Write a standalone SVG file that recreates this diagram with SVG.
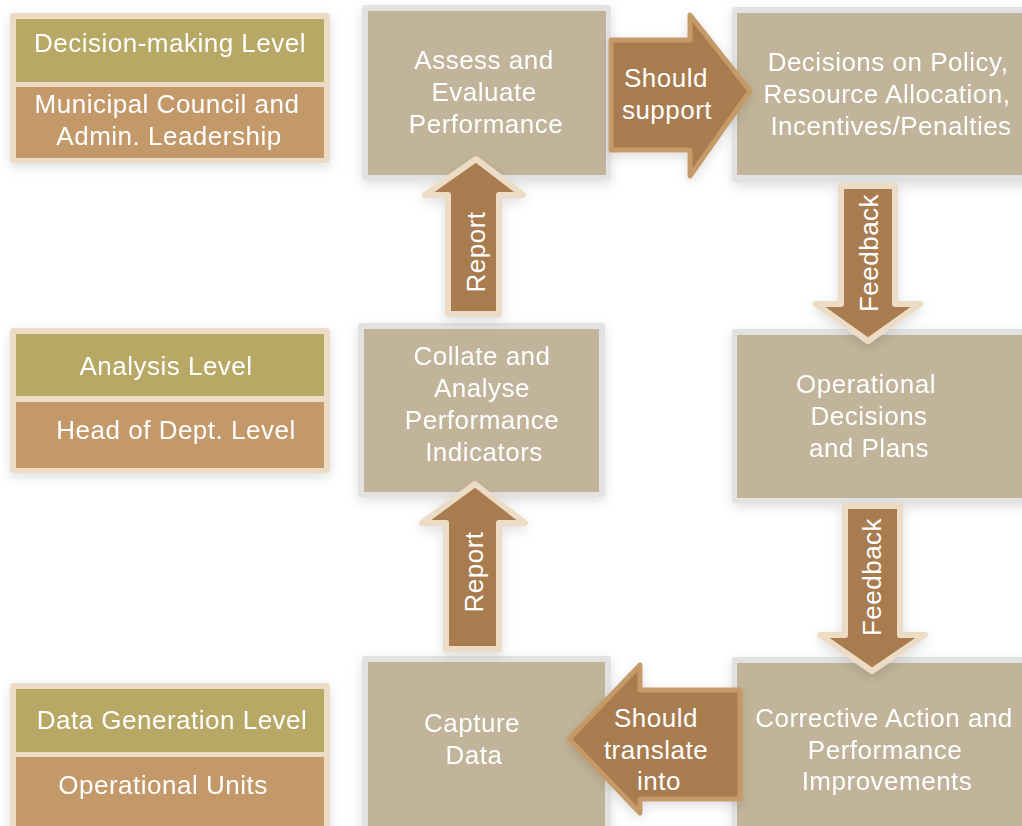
<svg xmlns="http://www.w3.org/2000/svg" width="1022" height="826" viewBox="0 0 1022 826">
<defs>
<filter id="sh" x="-20%" y="-20%" width="140%" height="140%">
<feDropShadow dx="0" dy="4" stdDeviation="6" flood-color="#000" flood-opacity="0.13"/>
</filter>
<style>
.t{font-family:"Liberation Sans",Arial,sans-serif;font-size:26px;fill:#fff;text-anchor:middle;letter-spacing:0.5px}
.frame{fill:#ecdcc6}
.olive{fill:#b8a865}
.brown{fill:#c4996b}
.bframe{fill:#e2e2e1}
.box{fill:#c2b49a}
.arr{fill:#a87b50;stroke:#ecdcc6;stroke-width:6;stroke-linejoin:round}
.arrh{fill:#a87b50;stroke:#c69a68;stroke-width:5;stroke-linejoin:round}
</style>
</defs>
<rect width="1022" height="826" fill="#fff"/>

<g id="legend-decision" filter="url(#sh)">
<rect class="frame" x="10" y="13" width="320" height="150" rx="4"/>
<rect class="olive" x="16" y="19" width="308" height="63"/>
<rect class="brown" x="16" y="87" width="308" height="71"/>
<text class="t" x="170" y="52">Decision-making Level</text>
<text class="t" x="167" y="113">Municipal Council and</text>
<text class="t" x="169" y="145">Admin. Leadership</text>
</g>

<g id="legend-analysis" filter="url(#sh)">
<rect class="frame" x="10" y="328" width="320" height="145" rx="4"/>
<rect class="olive" x="16" y="334" width="308" height="62"/>
<rect class="brown" x="16" y="402" width="308" height="66"/>
<text class="t" x="166" y="375">Analysis Level</text>
<text class="t" x="176" y="439">Head of Dept. Level</text>
</g>

<g id="legend-data" filter="url(#sh)">
<rect class="frame" x="10" y="683" width="320" height="150" rx="4"/>
<rect class="olive" x="16" y="689" width="308" height="63"/>
<rect class="brown" x="16" y="757" width="308" height="80"/>
<text class="t" x="172" y="729">Data Generation Level</text>
<text class="t" x="163" y="794">Operational Units</text>
</g>

<g id="assess" filter="url(#sh)">
<rect class="bframe" x="362" y="5" width="249" height="175" rx="3"/>
<rect class="box" x="368" y="11" width="238" height="164"/>
<text class="t" x="484" y="69">Assess and</text>
<text class="t" x="484" y="101">Evaluate</text>
<text class="t" x="486" y="133">Performance</text>
</g>

<g id="decisions" filter="url(#sh)">
<rect class="bframe" x="732" y="7" width="300" height="175" rx="3"/>
<rect class="box" x="737" y="13" width="290" height="162"/>
<text class="t" x="888" y="71">Decisions on Policy,</text>
<text class="t" x="887" y="103">Resource Allocation,</text>
<text class="t" x="891" y="135">Incentives/Penalties</text>
</g>

<g id="collate" filter="url(#sh)">
<rect class="bframe" x="358" y="323" width="247" height="174" rx="3"/>
<rect class="box" x="364" y="329" width="235" height="163"/>
<text class="t" x="482" y="365">Collate and</text>
<text class="t" x="482" y="397">Analyse</text>
<text class="t" x="482" y="429">Performance</text>
<text class="t" x="484" y="461">Indicators</text>
</g>

<g id="operational" filter="url(#sh)">
<rect class="bframe" x="732" y="329" width="300" height="174" rx="3"/>
<rect class="box" x="737" y="335" width="290" height="163"/>
<text class="t" x="866" y="393">Operational</text>
<text class="t" x="869" y="425">Decisions</text>
<text class="t" x="869" y="457">and Plans</text>
</g>

<g id="capture" filter="url(#sh)">
<rect class="bframe" x="362" y="656" width="249" height="180" rx="3"/>
<rect class="box" x="368" y="662" width="237" height="170"/>
<text class="t" x="472" y="732">Capture</text>
<text class="t" x="474" y="764">Data</text>
</g>

<g id="corrective" filter="url(#sh)">
<rect class="bframe" x="732" y="657" width="300" height="180" rx="3"/>
<rect class="box" x="737" y="663" width="290" height="170"/>
<text class="t" x="884" y="727">Corrective Action and</text>
<text class="t" x="885" y="759">Performance</text>
<text class="t" x="887" y="790">Improvements</text>
</g>

<g id="connectors">
<g filter="url(#sh)">
<polygon class="arrh" points="611,40 690,40 690,15 750,91 690,176 690,150 611,150"/>
<polygon class="arrh" points="740,690 640,690 640,665 569,739 640,813 640,799 740,799"/>
<polygon class="arr" points="476,159 523,195 499,195 499,314 448,314 448,195 425,195"/>
<polygon class="arr" points="475,484 525,523 499,523 499,649 446,649 446,523 422,523"/>
<polygon class="arr" points="841,186 895,186 895,304 920,304 868,341 816,304 841,304"/>
<polygon class="arr" points="845,506 900,506 900,635 925,635 872,671 820,635 845,635"/>
</g>
<text class="t" x="666" y="87">Should</text>
<text class="t" x="667" y="119">support</text>
<text class="t" x="656" y="727">Should</text>
<text class="t" x="656" y="759">translate</text>
<text class="t" x="659" y="790">into</text>
<text class="t" transform="translate(485,252) rotate(-90)">Report</text>
<text class="t" transform="translate(483,572) rotate(-90)">Report</text>
<text class="t" transform="translate(878,253) rotate(-90)">Feedback</text>
<text class="t" transform="translate(881,577) rotate(-90)">Feedback</text>
</g>
</svg>
